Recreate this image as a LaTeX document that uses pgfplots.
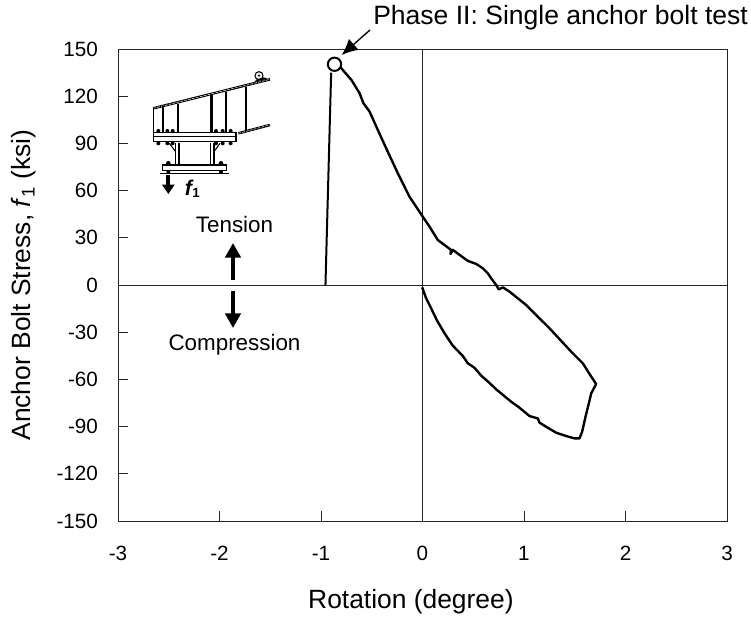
\documentclass[border=0pt]{standalone}
\usepackage{pgfplots}
\pgfplotsset{compat=1.18}
\usepackage{fontspec}
\setmainfont{Liberation Sans}
\usetikzlibrary{arrows.meta}
\begin{document}
\begin{tikzpicture}
\useasboundingbox (-88.5pt,-72pt) rectangle (474.75pt,390.75pt);
\begin{axis}[
  at={(0pt,0pt)},anchor=south west,scale only axis,
  width=456.75pt,height=354pt,
  xmin=-3,xmax=3,ymin=-150,ymax=150,
  xtick={-3,-2,-1,0,1,2,3},
  ytick={-150,-120,-90,-60,-30,0,30,60,90,120,150},
  tick align=inside,
  xtick pos=bottom,ytick pos=left,
  major tick length=7.5pt,
  axis line style={black!85,line width=0.6pt},
  tick style={black!85,line width=0.6pt},
  ticklabel style={font=\fontsize{15.5}{18}\selectfont},
  xticklabel style={yshift=-15.5pt},
  yticklabel style={xshift=-11.5pt},
  /pgf/number format/assume math mode=true,
  xlabel={Rotation (degree)},
  ylabel={Anchor Bolt Stress, \textit{f}\textsubscript{1} (ksi)},
  label style={font=\fontsize{19.8}{22}\selectfont},
  x label style={at={(axis description cs:0.481,-0.171)},anchor=center},
  y label style={at={(axis description cs:-0.155,0.5)},anchor=center},
  clip=false,
]
\addplot[black!85,line width=0.6pt,forget plot] coordinates {(-3,0) (3,0)};
\addplot[black!85,line width=0.6pt,forget plot] coordinates {(0,-150) (0,150)};
\addplot[black,line width=1.5pt,line join=round,forget plot] coordinates {
(-0.956,0)(-0.90,135)};
\addplot[black,line width=1.8pt,line join=round,forget plot] coordinates {
(-0.83,139)(-0.80,137.8)(-0.75,134)(-0.70,130.3)(-0.62,121.9)(-0.581,115.4)(-0.522,110.3)(-0.44,98.5)(-0.342,84.7)(-0.243,71)(-0.128,56.1)(0.003,43.4)(0.069,37.1)(0.151,28.6)(0.217,25.4)(0.282,22.3)(0.276,19.7)(0.299,22.3)(0.381,18.4)(0.447,15.3)(0.529,13.4)(0.594,10.6)(0.644,7.4)(0.677,4.2)(0.726,0)(0.752,-2.8)(0.791,-1.5)(0.857,-4.2)(1.021,-12.7)(1.136,-20.1)(1.251,-27.5)(1.465,-42.4)(1.58,-49.8)(1.652,-57.2)(1.711,-62.9)(1.662,-68.9)(1.639,-75.2)(1.606,-83.7)(1.573,-93.2)(1.547,-97.5)(1.498,-97.5)(1.415,-96)(1.317,-93.9)(1.218,-90.1)(1.153,-87.5)(1.136,-84.8)(1.054,-83.3)(0.956,-78)(0.874,-74.2)(0.782,-69.3)(0.726,-66.3)(0.654,-61.9)(0.578,-57.6)(0.512,-52.6)(0.447,-49.8)(0.397,-45.1)(0.299,-38.6)(0.217,-30.7)(0.141,-22.3)(0.085,-14.8)(0.036,-8.5)(-0.003,-1.5)};
\addplot[only marks,mark=*,mark size=5pt,mark options={fill=white,draw=black,line width=1.5pt},forget plot] coordinates {(-0.867,140.3)};
\end{axis}
% annotations, coordinates in reference pixels
\begin{scope}[shift={(-88.5pt,390.75pt)},x=0.75pt,y=-0.75pt]
\node[anchor=west,inner sep=0pt,font=\fontsize{19.9}{22}\selectfont] at (373,18) {Phase II: Single anchor bolt test};
\node[inner sep=0pt,font=\fontsize{16.8}{18}\selectfont] at (234.5,225) {Tension};
\node[inner sep=0pt,font=\fontsize{16.8}{18}\selectfont] at (234.5,345) {Compression};
\draw[line width=1pt,-{Latex[length=12pt,width=11pt]}] (370,30) -- (341.7,55);
\draw[line width=3pt,-{Triangle[length=11pt,width=11.5pt]}] (233,280) -- (233,243);
\draw[line width=3pt,-{Triangle[length=11pt,width=11.5pt]}] (233,291) -- (233,328);
\end{scope}
% inset sketch, coordinates in a 3x crop of the reference
\begin{scope}[shift={(-6pt,360.75pt)},x=0.25pt,y=-0.25pt]
\draw[line width=1.9pt] (130,205) -- (480,118);
\draw[white,line width=0.4pt,dash pattern=on 2pt off 1pt] (130,205) -- (480,118);
\draw[line width=1.9pt] (385,280) -- (480,255);
\draw[white,line width=0.4pt,dash pattern=on 2pt off 1pt] (385,280) -- (480,255);
\draw[line width=1pt] (130,205) -- (130,280);
\draw[line width=1.3pt] (158,198) -- (158,278);
\draw[line width=1.3pt] (204,192) -- (204,278);
\draw[line width=1.8pt] (304,165) -- (304,278);
\draw[line width=1.3pt] (349,155) -- (349,278);
\draw[line width=1.3pt] (407,140) -- (407,272);
\draw[line width=1.2pt,fill=white] (130,278) rectangle (378,305);
\draw[line width=1.1pt] (130,290) -- (378,290);
\foreach \x in {145,172,188,318,338,362}{
  \fill (\x,273) circle[radius=6];
  \fill (\x,310) circle[radius=6];
}
\draw[line width=0.9pt] (197,308) -- (197,375) (207,308) -- (207,375) (302,308) -- (302,375) (312,308) -- (312,375);
\draw[line width=0.8pt] (178,310) -- (197,335) (330,310) -- (312,335);
\draw[line width=1.2pt,fill=white] (158,375) rectangle (350,392);
\fill (175,370) circle[radius=7] (333,370) circle[radius=7] (175,396) circle[radius=6] (333,396) circle[radius=6];
\draw[line width=0.7pt] (150,400) -- (358,400);
\draw[line width=3.2pt,-{Triangle[length=7pt,width=9pt]}] (175,405) -- (175,462);
\node[anchor=base west,inner sep=0pt,font=\fontsize{16}{18}\selectfont\bfseries\itshape] at (224,466) {f};
\node[anchor=base west,inner sep=0pt,font=\fontsize{10}{12}\selectfont\bfseries] at (246,474) {1};
\draw[line width=0.8pt,fill=white] (447,107) circle[radius=12];
\fill (447,107) circle[radius=4];
\fill (433,126) -- (472,116) -- (462,112) -- (440,118) -- cycle;
\end{scope}
\end{tikzpicture}
\end{document}
